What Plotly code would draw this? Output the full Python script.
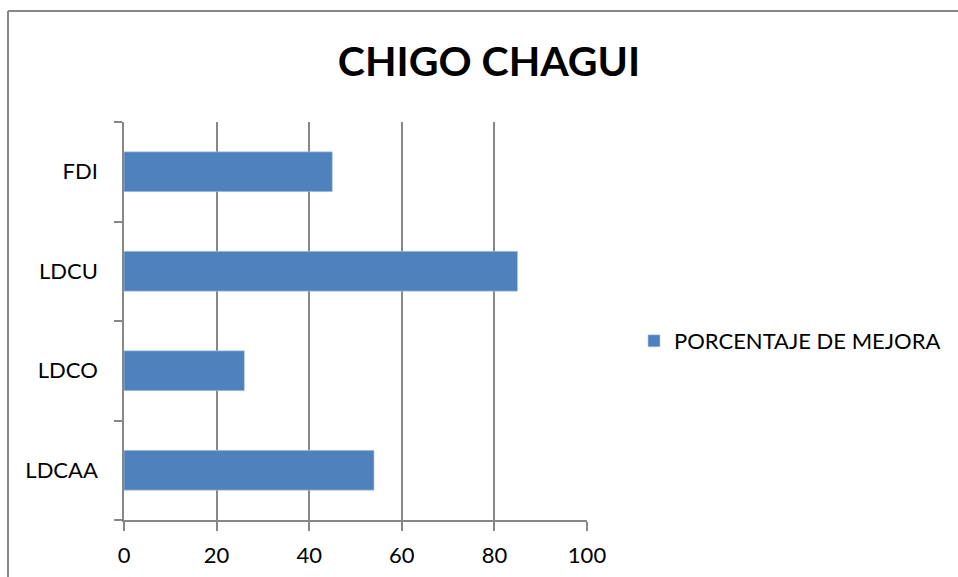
import plotly.graph_objects as go

categories = ["LDCAA", "LDCO", "LDCU", "FDI"]
values = [54, 26, 85, 45]
series_name = "PORCENTAJE DE MEJORA"
title_text = "CHIGO CHAGUI"
x_ticks = [0, 20, 40, 60, 80, 100]

W, H = 958, 577
L, R, T, B = 124, 371, 122, 57
pw, ph = W - L - R, H - T - B

def px_to_paper_x(px):
    return (px - L) / pw

def py_to_paper_y(py):
    return 1 - (py - T) / ph

GRAY = "#878787"
FONT = "Lato"

fig = go.Figure()
fig.add_trace(go.Bar(
    x=values, y=categories, orientation="h", name=series_name,
    marker=dict(color="#4F81BD", line=dict(color="#B9CDE5", width=0.6)),
    showlegend=True,
))

fig.update_layout(
    width=W, height=H,
    margin=dict(l=L, r=R, t=T, b=B, autoexpand=False),
    paper_bgcolor="white", plot_bgcolor="white",
    font=dict(family=FONT, size=22, color="black"),
    bargap=0.6,
    title=dict(text="<b>" + title_text + "</b>", font=dict(family=FONT, size=41, color="black"),
               x=489 / W, xanchor="center", xref="container",
               y=1 - 62 / H, yanchor="middle", yref="container"),
    showlegend=True,
    legend=dict(x=px_to_paper_x(634), xanchor="left", y=py_to_paper_y(341), yanchor="middle",
                font=dict(family=FONT, size=22, color="black"),
                bgcolor="rgba(0,0,0,0)"),
    xaxis=dict(range=[0, 100], tickvals=x_ticks, showgrid=True, gridcolor=GRAY, gridwidth=1.5,
               showline=True, linecolor=GRAY, linewidth=1.5, zeroline=False,
               ticks="outside", ticklen=9, tickcolor=GRAY, tickwidth=1.5,
               ticklabelstandoff=6, fixedrange=True),
    yaxis=dict(showgrid=False, showline=True, linecolor=GRAY, linewidth=1.5,
               ticks="outside", ticklen=8, tickcolor=GRAY, tickwidth=1.5,
               tickson="boundaries", ticklabelstandoff=20, fixedrange=True,
               categoryorder="array", categoryarray=categories),
)

# chart-area border (only top and left edges visible in the reference)
fig.add_shape(type="line", xref="paper", yref="paper",
              x0=px_to_paper_x(8), x1=px_to_paper_x(W + 5), y0=py_to_paper_y(11), y1=py_to_paper_y(11),
              line=dict(color=GRAY, width=2))
fig.add_shape(type="line", xref="paper", yref="paper",
              x0=px_to_paper_x(8), x1=px_to_paper_x(8), y0=py_to_paper_y(11), y1=py_to_paper_y(H + 5),
              line=dict(color=GRAY, width=2))

fig.write_html("out.html", config={"displayModeBar": False},
               post_script="document.body.style.margin='0';document.body.style.overflow='hidden';")
